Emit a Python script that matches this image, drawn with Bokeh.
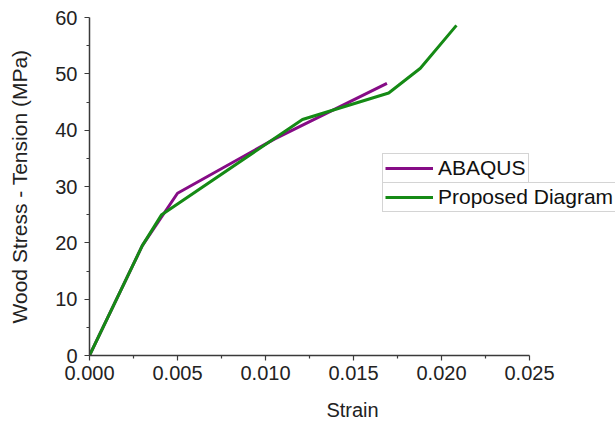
from bokeh.plotting import figure
from bokeh.models import Range1d, FixedTicker, NumeralTickFormatter, Legend, LegendItem
from bokeh.embed import file_html
from bokeh.resources import INLINE

# Data
abaqus_strain = [0.0, 0.003, 0.005, 0.0105, 0.0169]
abaqus_stress = [0.0, 19.5, 28.8, 38.4, 48.3]

proposed_strain = [0.0, 0.003, 0.0041, 0.0121, 0.0170, 0.0188, 0.02085]
proposed_stress = [0.0, 19.5, 25.0, 41.9, 46.6, 51.0, 58.6]

x_ticks = [0.0, 0.005, 0.010, 0.015, 0.020, 0.025]
x_minor = [0.0025, 0.0075, 0.0125, 0.0175, 0.0225]
y_ticks = [0, 10, 20, 30, 40, 50, 60]
y_minor = [5, 15, 25, 35, 45, 55]

FONT = "Liberation Sans"
AXC = "#3a3a3a"
FS = "20px"

# frame extends right of the axis end so the legend can sit beyond x = 0.025
x_end = 0.025 * 526 / 440

p = figure(width=615, height=421, output_backend="svg", toolbar_location=None,
           x_range=Range1d(0, x_end), y_range=Range1d(0, 60),
           frame_width=526, frame_height=338,
           min_border_left=89, min_border_top=17, min_border_right=0, min_border_bottom=60)
p.grid.visible = False
p.outline_line_color = None
p.background_fill_color = "white"
p.border_fill_color = "white"

r1 = p.line(abaqus_strain, abaqus_stress, line_color="#860c86", line_width=3)
r2 = p.line(proposed_strain, proposed_stress, line_color="#158a15", line_width=3)

for ax in (p.xaxis[0], p.yaxis[0]):
    ax.axis_line_color = AXC
    ax.axis_line_width = 1.5
    ax.major_tick_line_color = AXC
    ax.minor_tick_line_color = AXC
    ax.major_tick_line_width = 1.2
    ax.minor_tick_line_width = 1.2
    ax.major_tick_out = 5
    ax.major_tick_in = 0
    ax.minor_tick_out = 3
    ax.minor_tick_in = 0
    ax.major_label_text_font = FONT
    ax.major_label_text_font_size = FS
    ax.major_label_text_color = "#222222"
    ax.axis_label_text_font = FONT
    ax.axis_label_text_font_size = FS
    ax.axis_label_text_font_style = "normal"
    ax.axis_label_text_color = "#222222"

p.yaxis.axis_label_text_font_size = "21px"
p.xaxis.bounds = (0, 0.025)
p.xaxis.ticker = FixedTicker(ticks=x_ticks, minor_ticks=x_minor)
p.yaxis.ticker = FixedTicker(ticks=y_ticks, minor_ticks=y_minor)
p.xaxis.formatter = NumeralTickFormatter(format="0.000")
p.xaxis.axis_label = "Strain"
p.yaxis.axis_label = "Wood Stress - Tension (MPa)"
p.xaxis.major_label_standoff = 5
p.yaxis.major_label_standoff = 7
p.xaxis.axis_label_standoff = 16
p.yaxis.axis_label_standoff = 21

def make_legend(label, rend, loc):
    leg = Legend(items=[LegendItem(label=label, renderers=[rend])], location=loc)
    leg.border_line_color = "#aaaaaa"
    leg.border_line_width = 1
    leg.background_fill_color = "white"
    leg.background_fill_alpha = 1.0
    leg.padding = 2
    leg.margin = 0
    leg.spacing = 0
    leg.glyph_width = 48
    leg.glyph_height = 20
    leg.label_height = 20
    leg.label_standoff = 5
    leg.label_text_font = FONT
    leg.label_text_font_size = "21px"
    leg.label_text_color = "#111111"
    return leg

p.add_layout(make_legend("ABAQUS", r1, (293, 172)))
p.add_layout(make_legend("Proposed Diagram", r2, (293, 143)))

open("out.html", "w").write(file_html(p, INLINE))
